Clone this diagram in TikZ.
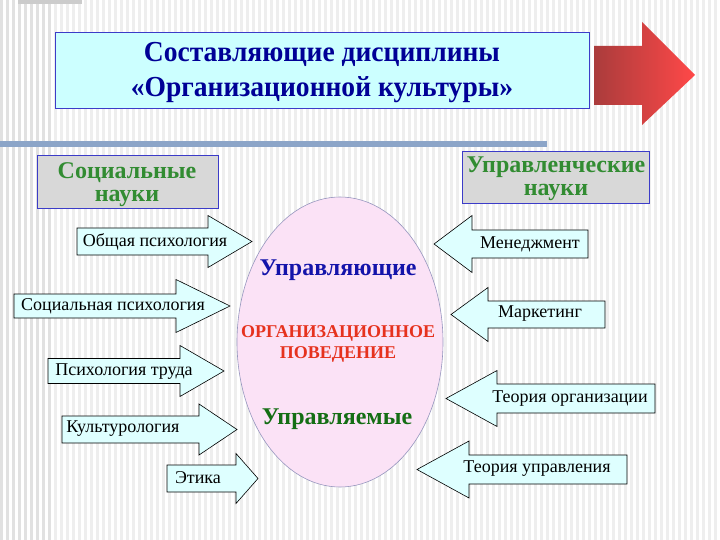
\documentclass[tikz,border=0pt]{standalone}
\usepackage{fontspec}
\setmainfont{Liberation Serif}
\usetikzlibrary{shapes.geometric}
\definecolor{titlefill}{RGB}{204,255,255}
\definecolor{titleblue}{RGB}{0,0,150}
\definecolor{boxborder}{RGB}{60,60,200}
\definecolor{boxfill}{RGB}{216,216,216}
\definecolor{catgreen}{RGB}{50,140,50}
\definecolor{arrfill}{RGB}{222,255,255}
\definecolor{ellfill}{RGB}{251,226,246}
\definecolor{ellline}{RGB}{150,150,190}
\definecolor{orgred}{RGB}{230,50,30}
\definecolor{ctrlblue}{RGB}{20,20,170}
\definecolor{ctrlgreen}{RGB}{20,110,20}
\definecolor{barcol}{RGB}{140,165,200}
\definecolor{stripe}{RGB}{238,238,238}
\definecolor{stripedark}{RGB}{225,225,225}
\definecolor{reddark}{RGB}{170,60,60}
\definecolor{redbright}{RGB}{255,72,72}
\tikzset{
  arrowshape/.style={draw=black, line width=0.6pt, fill=arrfill, line join=miter},
  arrtext/.style={font=\fontsize{18}{20}\selectfont, text=black, inner sep=0pt},
  catbox/.style={draw=boxborder, line width=0.8pt, fill=boxfill},
  cattext/.style={font=\bfseries\fontsize{24}{23}\selectfont, text=catgreen, align=center, inner sep=0pt},
}
\newcommand\BlockArr[6]{%
  \draw[arrowshape] ({#1},{#4-#5}) -- ({#2},{#4-#5}) -- ({#2},{#4-#6}) -- ({#3},{#4})
    -- ({#2},{#4+#6}) -- ({#2},{#4+#5}) -- ({#1},{#4+#5}) -- cycle;}
\begin{document}
\begin{tikzpicture}[x=1pt,y=-1pt]
\useasboundingbox (0,0) rectangle (720,540);
\fill[white] (0,0) rectangle (720,540);
\foreach \x in {0,6,...,714} \fill[stripe] (\x,0) rectangle (\x+3,540);
\foreach \x in {0,6,...,48} \fill[stripedark] (\x,0) rectangle (\x+3,540);
\fill[gray!40] (18,0) rectangle (82,4);
% title
\node[draw=boxborder, line width=0.8pt, fill=titlefill, minimum width=534pt, minimum height=76pt, inner sep=0pt] (title) at (322,70) {};
\node[font=\bfseries\fontsize{29}{35}\selectfont, text=titleblue, align=center, xscale=0.95, inner sep=0pt] (titletext) at (322,73) {Составляющие дисциплины\\«Организационной культуры»};
% red arrow
\shade[left color=reddark, middle color=redbright, right color=redbright]
  (594,46) -- (642,46) -- (642,22) -- (695,75) -- (642,125) -- (642,105) -- (594,105) -- cycle;
% bar
\fill[barcol] (0,141) rectangle (547,147);
% category boxes
\node[catbox, minimum width=181pt, minimum height=53pt] (soc) at (127.5,182) {};
\node[cattext] (soctext) at (127,185) {Социальные\\науки};
\node[catbox, minimum width=187pt, minimum height=52pt] (upr) at (555.5,177) {};
\node[cattext] (uprtext) at (556,179) {Управленческие\\науки};
% ellipse
\node[draw=ellline, line width=0.6pt, fill=ellfill, ellipse, minimum width=206pt, minimum height=290pt, inner sep=0pt] (ell) at (340,342) {};
\node[font=\bfseries\fontsize{24}{26}\selectfont, text=ctrlblue, inner sep=0pt] (ctrl) at (338,270) {Управляющие};
\node[font=\bfseries\fontsize{18}{21}\selectfont, text=orgred, align=center, inner sep=0pt] (ob) at (338,344) {ОРГАНИЗАЦИОННОЕ\\ПОВЕДЕНИЕ};
\node[font=\bfseries\fontsize{24}{26}\selectfont, text=ctrlgreen, inner sep=0pt] (ctrld) at (337,419) {Управляемые};
% left arrows
\BlockArr{77}{208}{252}{241.5}{13.5}{26}
\node[arrtext] (a1) at (155,242) {Общая психология};
\BlockArr{14}{176}{230}{306}{12}{26.5}
\node[arrtext] (a2) at (113,306) {Социальная психология};
\BlockArr{48}{180}{224}{371}{12.5}{25.5}
\node[arrtext] (a3) at (124,372) {Психология труда};
\BlockArr{62}{199}{237}{429.5}{13.5}{25.5}
\node[arrtext] (a4) at (123,429) {Культурология};
\BlockArr{167}{236}{258}{478.5}{13.5}{25}
\node[arrtext] (a5) at (198,478) {Этика};
% right arrows
\BlockArr{588}{472}{434}{244}{14}{28.5}
\node[arrtext] (b1) at (530,244) {Менеджмент};
\BlockArr{605}{488}{451}{314.5}{13.5}{27}
\node[arrtext] (b2) at (540,314) {Маркетинг};
\BlockArr{655}{497}{446}{398.5}{14.5}{28}
\node[arrtext] (b3) at (570,399) {Теория организации};
\BlockArr{627}{469}{417}{469.5}{14.5}{28.5}
\node[arrtext] (b4) at (537,469) {Теория управления};
\end{tikzpicture}
\end{document}
